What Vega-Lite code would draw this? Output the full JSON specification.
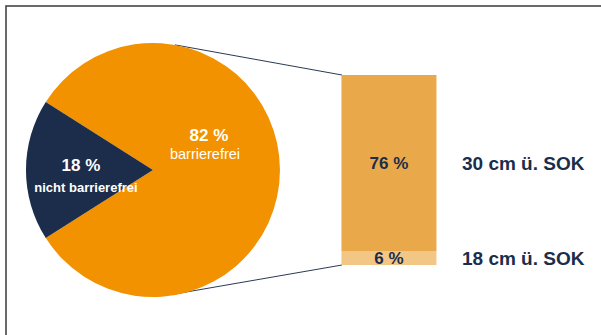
{
  "$schema": "https://vega.github.io/schema/vega-lite/v6.json",
  "width": 601,
  "height": 335,
  "autosize": {"type": "fit", "contains": "padding"},
  "padding": {"left": 6, "top": 6, "right": -3, "bottom": -3},
  "background": "white",
  "config": {
    "view": {"stroke": "#3a3a3a", "strokeWidth": 1.5},
    "font": "Liberation Sans",
    "text": {"font": "Liberation Sans"}
  },
  "datasets": {
    "gesamt": [
      {"Gruppe": "Gesamt", "Kategorie": "barrierefrei", "Anteil": 82, "Beschriftung": "82 %"},
      {"Gruppe": "Gesamt", "Kategorie": "nicht barrierefrei", "Anteil": 18, "Beschriftung": "18 %"}
    ],
    "hoehe": [
      {"Gruppe": "Höhe", "Hoehe": "30 cm ü. SOK", "Anteil": 76, "Beschriftung": "76 %"},
      {"Gruppe": "Höhe", "Hoehe": "18 cm ü. SOK", "Anteil": 6, "Beschriftung": "6 %"}
    ],
    "eins": [{}]
  },
  "layer": [
    {
      "data": {"name": "eins"},
      "mark": {"type": "rule", "color": "#2B3A55", "strokeWidth": 1, "xOffset": 22, "x2Offset": -47},
      "encoding": {
        "x": {"datum": "Gesamt", "type": "nominal", "scale": {"type": "point", "domain": ["Gesamt", "Höhe"], "padding": 0.767, "align": 0.406}, "axis": null},
        "x2": {"datum": "Höhe"},
        "y": {"datum": 95, "type": "quantitative", "scale": {"type": "linear", "domain": [-31.5, 111.78], "zero": false, "nice": false}, "axis": null},
        "y2": {"datum": 82}
      }
    },
    {
      "data": {"name": "eins"},
      "mark": {"type": "rule", "color": "#2B3A55", "strokeWidth": 1, "xOffset": 22, "x2Offset": -47},
      "encoding": {
        "x": {"datum": "Gesamt", "type": "nominal", "axis": null},
        "x2": {"datum": "Höhe"},
        "y": {"datum": -12.5, "type": "quantitative", "axis": null},
        "y2": {"datum": 0}
      }
    },
    {
      "data": {"name": "gesamt"},
      "mark": {"type": "arc", "radius": 127},
      "encoding": {
        "x": {"field": "Gruppe", "type": "nominal", "axis": null},
        "y": {"datum": 41, "type": "quantitative", "axis": null},
        "theta": {"field": "Anteil", "type": "quantitative", "stack": true, "scale": {"range": [5.2779, 11.5611]}},
        "order": {"field": "Anteil", "sort": "descending"},
        "color": {"field": "Kategorie", "type": "nominal", "scale": {"domain": ["barrierefrei", "nicht barrierefrei"], "range": ["#F39200", "#1B2D4A"]}, "legend": null}
      }
    },
    {
      "data": {"name": "gesamt"},
      "transform": [{"filter": "datum.Kategorie == 'barrierefrei'"}],
      "mark": {"type": "text", "color": "white", "fontSize": 17, "fontWeight": "bold", "dx": 56, "dy": -34},
      "encoding": {
        "x": {"field": "Gruppe", "type": "nominal", "axis": null},
        "y": {"datum": 41, "type": "quantitative", "axis": null},
        "text": {"field": "Beschriftung"}
      }
    },
    {
      "data": {"name": "gesamt"},
      "transform": [{"filter": "datum.Kategorie == 'barrierefrei'"}],
      "mark": {"type": "text", "color": "white", "fontSize": 14.5, "fontWeight": "normal", "dx": 52, "dy": -15},
      "encoding": {
        "x": {"field": "Gruppe", "type": "nominal", "axis": null},
        "y": {"datum": 41, "type": "quantitative", "axis": null},
        "text": {"field": "Kategorie"}
      }
    },
    {
      "data": {"name": "gesamt"},
      "transform": [{"filter": "datum.Kategorie == 'nicht barrierefrei'"}],
      "mark": {"type": "text", "color": "white", "fontSize": 17, "fontWeight": "bold", "dx": -72, "dy": -4},
      "encoding": {
        "x": {"field": "Gruppe", "type": "nominal", "axis": null},
        "y": {"datum": 41, "type": "quantitative", "axis": null},
        "text": {"field": "Beschriftung"}
      }
    },
    {
      "data": {"name": "gesamt"},
      "transform": [{"filter": "datum.Kategorie == 'nicht barrierefrei'"}],
      "mark": {"type": "text", "color": "white", "fontSize": 13, "fontWeight": "bold", "dx": -67, "dy": 18},
      "encoding": {
        "x": {"field": "Gruppe", "type": "nominal", "axis": null},
        "y": {"datum": 41, "type": "quantitative", "axis": null},
        "text": {"field": "Kategorie"}
      }
    },
    {
      "data": {"name": "hoehe"},
      "mark": {"type": "bar", "width": 95},
      "encoding": {
        "x": {"field": "Gruppe", "type": "nominal", "axis": null},
        "y": {"field": "Anteil", "type": "quantitative", "stack": "zero", "axis": null},
        "order": {"field": "Anteil", "sort": "ascending"},
        "color": {"field": "Hoehe", "type": "nominal", "scale": {"domain": ["30 cm ü. SOK", "18 cm ü. SOK"], "range": ["#E9A94B", "#F2C684"]}, "legend": null}
      }
    },
    {
      "data": {"name": "hoehe"},
      "mark": {"type": "text", "color": "#1B2D4A", "fontSize": 17, "fontWeight": "bold", "dy": 1},
      "encoding": {
        "x": {"field": "Gruppe", "type": "nominal", "axis": null},
        "y": {"field": "Anteil", "type": "quantitative", "stack": "zero", "bandPosition": 0.5, "axis": null},
        "order": {"field": "Anteil", "sort": "ascending"},
        "detail": {"field": "Hoehe"},
        "text": {"field": "Beschriftung"}
      }
    },
    {
      "data": {"name": "hoehe"},
      "mark": {"type": "text", "color": "#1B2D4A", "fontSize": 19, "fontWeight": "bold", "align": "left", "dx": 73, "dy": 1},
      "encoding": {
        "x": {"field": "Gruppe", "type": "nominal", "axis": null},
        "y": {"field": "Anteil", "type": "quantitative", "stack": "zero", "bandPosition": 0.5, "axis": null},
        "order": {"field": "Anteil", "sort": "ascending"},
        "detail": {"field": "Hoehe"},
        "text": {"field": "Hoehe"}
      }
    }
  ],
  "resolve": {"scale": {"color": "independent"}}
}
